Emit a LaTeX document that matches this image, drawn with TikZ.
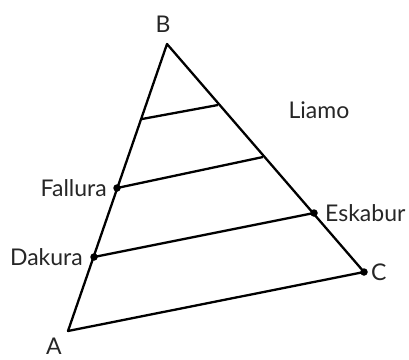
\documentclass[tikz,border=0pt]{standalone}
\usepackage{fontspec}
\setmainfont{Lato}
\begin{document}
\begin{tikzpicture}[x=1pt,y=-1pt,
  edge/.style={line width=2.3pt,line join=round},
  dot/.style={circle,fill=black,inner sep=0pt,minimum size=7.5pt},
  lbl/.style={font=\fontsize{23}{25}\selectfont,text=black!85,inner sep=0pt}]
\useasboundingbox (0,0) rectangle (409,359);
\coordinate (A) at (68,331);
\coordinate (B) at (167,44);
\node[dot] (C) at (364,272) {};
\coordinate (P1) at (142,119);
\coordinate (Q1) at (218,105);
\node[dot] (F) at (117,188) {};
\coordinate (Q2) at (263,157);
\node[dot] (D) at (94,257) {};
\node[dot] (E) at (314,213) {};
\draw[edge] (A.center) -- (B.center) -- (C.center) -- cycle;
\draw[edge] (P1) -- (Q1);
\draw[edge] (F.center) -- (Q2);
\draw[edge] (D.center) -- (E.center);
\node[lbl] (lB) at (163,24) {B};
\node[lbl] (lA) at (54,346) {A};
\node[lbl,anchor=west] (lC) at (371,272) {C};
\node[lbl,anchor=east] (lF) at (107,188) {Fallura};
\node[lbl,anchor=east] (lD) at (83,257) {Dakura};
\node[lbl,anchor=west] (lE) at (325,213) {Eskabur};
\node[lbl] (lL) at (319,110) {Liamo};
\end{tikzpicture}
\end{document}
